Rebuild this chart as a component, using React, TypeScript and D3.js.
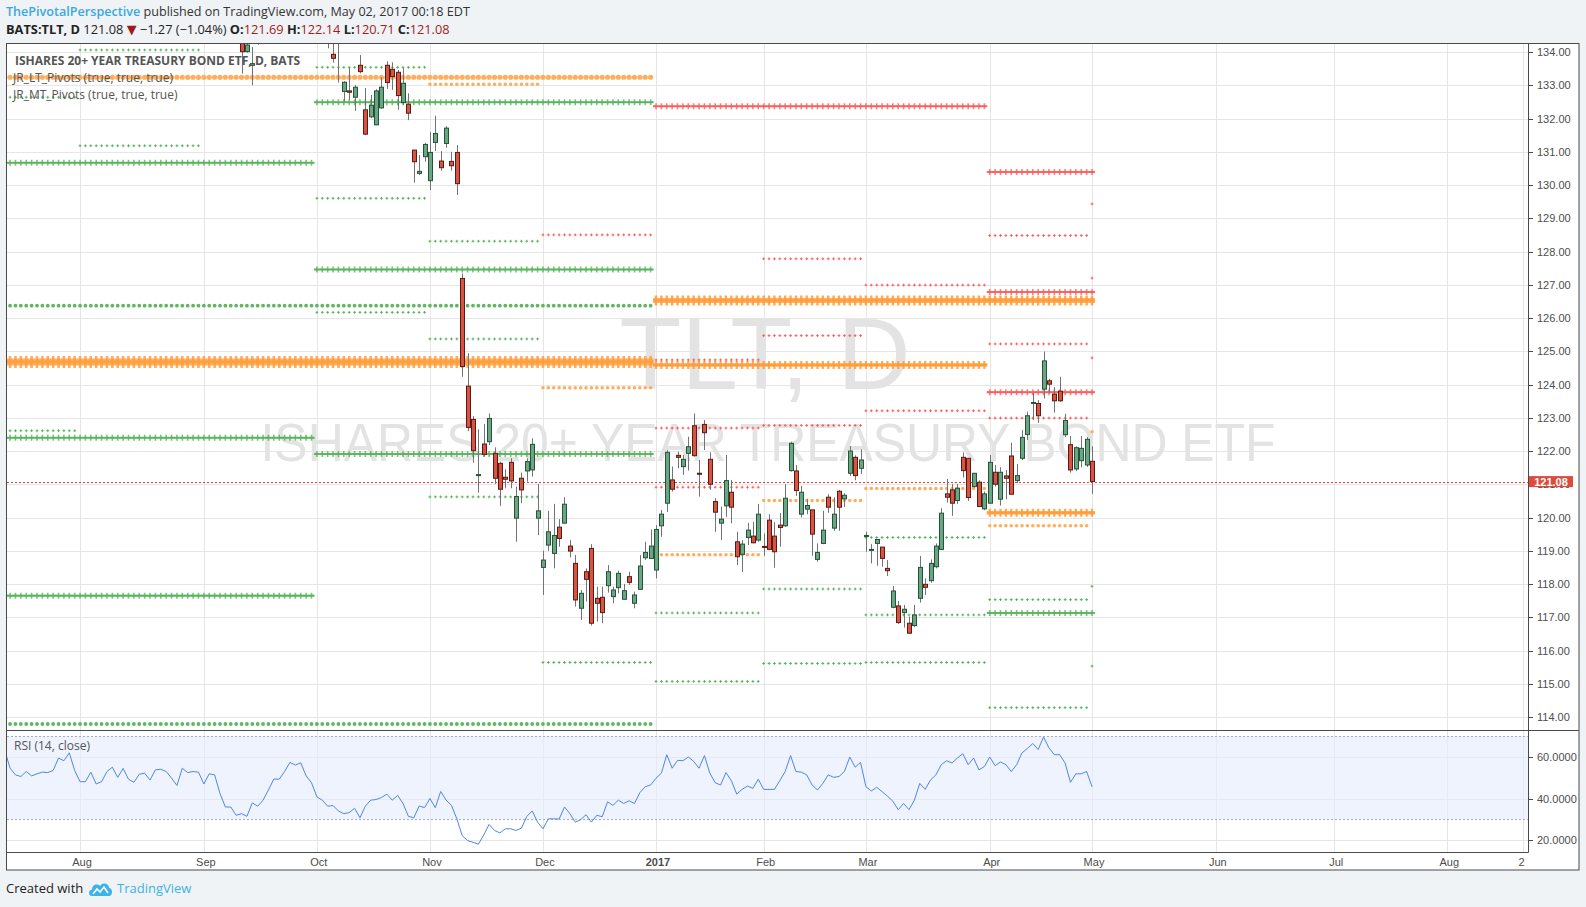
import React from "react";
import * as d3 from "d3";

// ---------------- DATA ----------------
// bar index is counted in trading days from Jan 3, 2017 (= 0)
const candleStart = -77; // Sep 13, 2016
const opens = [
  134.5, 134.01, 133.6, 134.6, 134.8, 135.4, 135.7, 136.6, 137.0, 137.3,
  138.0, 137.7, 138.3, 137.5, 137.4, 136.6, 135.6, 133.93, 134.35, 132.81,
  132.83, 132.64, 133.6, 132.26, 132.05, 131.81, 132.32, 133.6, 133.48, 133.39,
  132.48, 132.43, 131.05, 130.35, 130.85, 130.13, 131.28, 130.72, 131.25, 130.71,
  130.98, 127.19, 123.95, 122.95, 121.27, 122.21, 122.28, 121.93, 121.63, 121.21,
  121.66, 119.98, 121.18, 121.4, 121.43, 119.98, 118.5, 119.17, 118.92, 119.71,
  119.83, 119.14, 118.62, 117.27, 118.37, 119.07, 117.57, 117.6, 117.95, 117.62,
  117.89, 117.54, 118.22, 117.42, 117.84, 118.79, 118.77, 118.42, 119.75, 120.43,
  121.13, 121.87, 121.53, 121.93, 122.76, 121.33, 122.8, 121.75, 120.48, 119.83,
  120.35, 120.76, 119.27, 118.89, 119.4, 119.44, 119.32, 119.13, 119.92, 119.44,
  119.77, 119.75, 121.41, 121.4, 120.1, 120.25, 120.23, 118.74, 119.22, 120.61,
  119.68, 120.79, 120.56, 121.33, 121.81, 121.48, 119.44, 119.02, 119.22, 119.11,
  118.47, 117.3, 117.34, 117.14, 116.82, 116.75, 117.57, 117.99, 118.1, 118.52,
  119.04, 120.71, 120.83, 120.51, 121.81, 121.78, 120.93, 121.06, 120.26, 120.43,
  121.36, 120.55, 121.25, 121.85, 121.11, 121.78, 122.5, 123.44, 123.43, 123.86,
  124.11, 123.71, 123.8, 122.49, 122.19, 121.46, 121.71, 121.58, 121.69,
];
const highs = [
  134.8, 134.4, 134.15, 134.9, 135.5, 135.9, 136.8, 137.3, 137.6, 138.2,
  138.4, 138.6, 138.6, 138.0, 137.6, 136.7, 135.9, 134.4, 134.6, 133.12,
  133.52, 133.01, 133.91, 132.92, 132.71, 132.88, 133.24, 133.72, 133.69, 133.46,
  133.51, 132.76, 131.05, 130.9, 131.27, 131.6, 132.08, 131.02, 131.77, 131.0,
  131.2, 127.34, 124.94, 123.05, 122.65, 122.81, 123.13, 122.11, 121.68, 121.45,
  121.78, 120.93, 121.35, 121.78, 122.38, 121.01, 119.0, 120.2, 120.41, 119.95,
  120.61, 119.32, 118.87, 117.82, 118.47, 119.2, 117.92, 117.92, 118.57, 117.92,
  118.4, 118.0, 118.37, 117.77, 118.87, 119.27, 119.64, 119.77, 120.23, 122.03,
  121.53, 121.98, 121.88, 122.43, 123.13, 121.73, 122.93, 121.96, 120.58, 120.33,
  121.88, 121.13, 119.57, 119.32, 119.84, 119.87, 120.41, 119.52, 120.1, 119.86,
  120.13, 121.0, 122.28, 121.58, 120.95, 120.56, 120.23, 119.22, 120.2, 120.7,
  120.61, 120.83, 120.73, 122.15, 121.87, 122.05, 119.57, 119.2, 119.34, 119.11,
  118.72, 117.94, 117.49, 117.37, 117.02, 117.37, 118.84, 118.17, 118.74, 119.22,
  120.28, 121.16, 121.01, 121.01, 121.96, 121.78, 121.33, 121.12, 120.78, 121.88,
  121.58, 121.51, 121.43, 122.25, 121.61, 122.63, 123.18, 123.75, 123.53, 124.99,
  124.17, 123.92, 124.23, 123.12, 122.45, 122.14, 122.45, 122.42, 122.14,
];
const lows = [
  133.35, 133.98, 133.0, 134.22, 134.24, 134.25, 135.5, 136.4, 136.7, 137.1,
  137.5, 137.5, 137.2, 137.0, 136.6, 135.6, 134.11, 133.68, 133.08, 132.51,
  132.56, 132.23, 133.36, 131.5, 132.01, 131.8, 132.29, 132.89, 132.86, 132.26,
  132.41, 131.95, 130.07, 130.3, 130.7, 129.85, 131.02, 130.43, 131.12, 130.43,
  129.7, 124.23, 122.6, 121.65, 120.75, 121.83, 122.18, 121.01, 120.35, 120.88,
  120.88, 119.27, 120.43, 121.08, 121.23, 119.47, 117.67, 119.0, 118.47, 119.12,
  119.83, 118.8, 117.32, 116.92, 117.47, 116.75, 116.87, 116.82, 117.74, 117.42,
  117.72, 117.54, 117.97, 117.27, 117.82, 118.72, 118.77, 118.17, 119.42, 120.17,
  120.78, 121.48, 121.28, 121.41, 121.83, 120.63, 122.03, 120.83, 119.57, 119.32,
  120.02, 119.83, 118.57, 118.36, 119.17, 119.22, 119.27, 118.85, 119.02, 118.49,
  119.12, 119.72, 121.38, 120.65, 120.0, 120.1, 118.85, 118.67, 119.2, 120.14,
  119.6, 119.6, 120.32, 121.25, 121.12, 121.31, 118.97, 118.62, 118.55, 118.52,
  118.24, 117.27, 116.8, 116.69, 116.52, 116.7, 117.44, 117.67, 118.04, 118.47,
  119.04, 120.45, 120.05, 120.41, 121.2, 120.5, 120.9, 120.33, 120.22, 120.43,
  120.93, 120.36, 120.55, 120.7, 121.03, 121.73, 122.33, 122.93, 122.85, 123.58,
  123.74, 123.15, 123.48, 122.42, 121.35, 121.4, 121.51, 121.52, 120.71,
];
const closes = [
  134.01, 134.21, 133.65, 134.75, 135.3, 135.6, 136.6, 137.0, 137.4, 138.0,
  137.7, 138.4, 137.5, 137.8, 136.8, 135.8, 134.6, 133.81, 134.3, 133.09,
  132.79, 132.94, 133.41, 131.53, 132.4, 132.83, 132.94, 133.08, 133.26, 132.69,
  133.06, 132.16, 130.7, 130.41, 131.22, 130.98, 131.55, 130.52, 131.71, 130.58,
  130.04, 124.54, 122.71, 122.01, 121.29, 121.9, 122.98, 121.18, 120.85, 121.15,
  121.1, 120.63, 120.83, 121.68, 122.2, 120.2, 118.72, 119.57, 119.46, 119.37,
  120.4, 118.99, 117.52, 117.72, 118.14, 116.82, 117.42, 117.14, 118.37, 117.82,
  118.32, 117.8, 118.05, 117.67, 118.54, 118.95, 119.14, 119.64, 120.1, 121.96,
  120.85, 121.81, 121.75, 122.13, 121.86, 121.3, 122.55, 121.0, 120.16, 119.95,
  121.11, 120.31, 118.82, 119.2, 119.62, 119.24, 120.1, 119.11, 119.04, 118.97,
  119.7, 120.58, 122.23, 120.81, 120.76, 120.36, 119.5, 118.95, 119.62, 120.31,
  120.1, 120.31, 120.67, 122.0, 121.26, 121.73, 119.46, 119.04, 119.34, 118.77,
  118.4, 117.79, 116.84, 117.24, 116.52, 117.07, 118.5, 117.9, 118.62, 119.14,
  120.13, 120.61, 120.43, 120.88, 121.41, 120.6, 121.33, 120.33, 120.71, 121.66,
  121.0, 121.36, 121.18, 120.7, 121.26, 122.41, 123.06, 123.46, 123.06, 124.71,
  124.01, 123.51, 123.51, 122.92, 121.43, 122.1, 122.08, 122.35, 121.08,
];

const rsiStart = -121;
const rsiValues = [
  63.3, 54.6, 51.4, 50.6, 53.0, 50.9, 51.9, 52.7, 52.5, 53.5,
  59.5, 58.2, 62.0, 53.5, 48.1, 48.1, 52.7, 47.0, 48.1, 53.0,
  55.1, 50.2, 54.5, 49.3, 47.8, 51.7, 52.2, 48.9, 53.8, 54.1,
  53.0, 49.8, 46.3, 54.6, 52.5, 53.0, 52.7, 47.0, 51.9, 51.4,
  42.4, 35.9, 35.9, 31.9, 32.7, 31.4, 37.9, 36.3, 39.2, 44.1,
  49.4, 49.3, 53.0, 57.4, 56.1, 57.2, 50.9, 47.6, 40.8, 39.2,
  36.3, 36.6, 34.0, 32.7, 33.2, 35.3, 30.7, 36.3, 39.2, 39.5,
  40.5, 42.1, 39.2, 41.5, 37.6, 31.4, 30.7, 36.4, 35.6, 40.0,
  35.6, 43.4, 39.2, 36.7, 30.2, 22.1, 19.7, 18.9, 18.0, 22.4,
  27.5, 24.6, 23.4, 25.4, 25.4, 24.6, 25.7, 31.4, 34.0, 28.6,
  25.4, 30.2, 30.2, 30.1, 35.9, 32.7, 28.6, 29.8, 32.2, 28.6,
  31.9, 31.2, 38.4, 36.7, 39.2, 37.6, 38.9, 37.6, 42.8, 45.7,
  46.5, 49.8, 52.2, 61.1, 54.6, 58.4, 58.2, 60.0, 57.9, 54.6,
  60.7, 52.2, 47.6, 46.5, 52.5, 48.6, 42.1, 44.4, 46.0, 44.9,
  49.3, 44.4, 44.4, 44.4, 48.6, 53.0, 60.7, 53.0, 52.7, 51.4,
  46.5, 44.1, 47.3, 51.4, 50.2, 50.6, 53.0, 60.0, 55.1, 57.4,
  45.7, 43.6, 45.4, 43.3, 41.1, 38.7, 34.6, 37.6, 34.6, 39.2,
  47.3, 44.4, 48.9, 51.4, 56.3, 58.2, 57.1, 59.5, 61.6, 56.3,
  59.5, 53.8, 55.4, 60.0, 55.8, 57.6, 56.3, 53.0, 56.3, 62.0,
  64.1, 66.5, 63.6, 69.6, 64.4, 61.1, 61.1, 57.1, 47.8, 51.9,
  51.9, 53.0, 45.7,
];

const timeTickIndex = [-107, -84, -63, -42, -21, 0, 20, 39, 62, 81, 104, 126, 147, 161];
const timeTickLabel = ["Aug", "Sep", "Oct", "Nov", "Dec", "2017", "Feb", "Mar", "Apr", "May", "Jun", "Jul", "Aug", "21"];
const priceTicks = [114, 115, 116, 117, 118, 119, 120, 121, 122, 123, 124, 125, 126, 127, 128, 129, 130, 131, 132, 133, 134];
const rsiTicks = [20, 40, 60];
const rsiBand = [30, 70];
const lastPrice = 121.08;

// pivot levels: [first bar, last bar, price]
const greenThickPivots = [
  [-121, -64, 130.67], [-121, -64, 122.4], [-121, -64, 117.65],
  [-63, -1, 132.49], [-63, -1, 127.46], [-63, -1, 121.91],
  [62, 81, 117.13],
];
const redThickPivots = [[0, 61, 132.37], [62, 81, 130.39], [62, 81, 126.78], [62, 81, 123.77]];
const orangeWidePivots = [[-121, -1, 124.68]];
const orangeBigPivots = [[0, 81, 126.53]];
const orangeThickPivots = [[0, 61, 124.59], [62, 81, 120.14]];
const orangeCirclePivots = [[-121, -1, 133.24]];
const greenCirclePivots = [[-121, -1, 126.37], [-121, -1, 113.79]];
const orangeDotPivots = [
  [-42, -22, 133.03], [-21, -1, 123.9], [0, 19, 118.88], [20, 38, 120.51],
  [39, 61, 120.87], [62, 80, 119.75], [81, 81, 122.58],
];
const greenSmallPivots = [
  [-121, -108, 132.64], [-121, -108, 122.61],
  [-107, -85, 134.06], [-107, -85, 131.18],
  [-63, -43, 133.54], [-63, -43, 129.6], [-63, -43, 126.17],
  [-42, -22, 128.31], [-42, -22, 125.37], [-42, -22, 120.62],
  [-21, -1, 115.64],
  [0, 19, 117.13], [0, 19, 115.07],
  [20, 38, 117.85], [20, 38, 115.61],
  [39, 61, 119.4], [39, 61, 117.07], [39, 61, 115.64],
  [62, 80, 117.53], [62, 80, 114.28],
  [81, 81, 117.93], [81, 81, 115.53],
];
const redSmallPivots = [
  [-21, -1, 128.5],
  [0, 19, 124.74], [0, 19, 122.69], [0, 19, 120.91],
  [20, 38, 127.78], [20, 38, 125.47], [20, 38, 122.77],
  [39, 61, 126.99], [39, 61, 123.21],
  [62, 80, 128.48], [62, 80, 125.22], [62, 80, 122.99],
  [81, 81, 129.43], [81, 81, 127.2], [81, 81, 124.8],
];

// ---------------- LAYOUT ----------------
const W = 1586;
const H = 907;
const PL = 7;
const PR = 1528;
const PT = 44;
const MB = 730;
const RB = 852;
const FB = 870;
const FR = 1579;

const UI = "'Open Sans', 'DejaVu Sans', sans-serif";
const AX = "'Liberation Sans', Arial, sans-serif";

export default function App() {
  const x = d3.scaleLinear().domain([0, 81]).range([656, 1092]);
  const y = d3.scaleLinear().domain([114, 134]).range([717, 52]);
  const yr = d3.scaleLinear().domain([20, 60]).range([840, 757]);

  const crossPath = (segs: number[][], a: number, b: number) =>
    segs
      .map(([s, e, p]) => {
        let d = "";
        const yy = y(p);
        for (let i = s; i <= e; i++) {
          const xx = x(i);
          d += `M${(xx - a).toFixed(2)},${yy.toFixed(2)}h${2 * a}M${xx.toFixed(2)},${(yy - b).toFixed(2)}v${2 * b}`;
        }
        return d;
      })
      .join("");
  const circlePath = (segs: number[][], r: number) =>
    segs
      .map(([s, e, p]) => {
        let d = "";
        const yy = y(p);
        for (let i = s; i <= e; i++) {
          const xx = x(i);
          d += `M${(xx - r).toFixed(2)},${yy.toFixed(2)}a${r},${r} 0 1,0 ${2 * r},0a${r},${r} 0 1,0 ${-2 * r},0`;
        }
        return d;
      })
      .join("");
  const bandPath = (segs: number[][], a: number) =>
    segs.map(([s, e, p]) => `M${x(s) - a},${y(p)}H${x(e) + a}`).join("");

  const rsiLine = d3
    .line<number>()
    .x((_, k) => x(rsiStart + k))
    .y((v) => yr(v))(rsiValues);

  const candles = opens.map((o, k) => {
    const i = candleStart + k;
    const c = closes[k];
    const up = c >= o;
    const cx = Math.round(x(i));
    const top = y(Math.max(o, c));
    const bot = y(Math.min(o, c));
    return { i, cx, top, bot, hi: y(highs[k]), lo: y(lows[k]), up };
  });

  return (
    <svg
      width={W}
      height={H}
      viewBox={`0 0 ${W} ${H}`}
      style={{ position: "absolute", left: 0, top: 0, background: "#f0f3f6" }}
    >
      <defs>
        <clipPath id="mainClip">
          <rect x={PL} y={PT} width={PR - PL} height={MB - PT} />
        </clipPath>
        <clipPath id="rsiClip">
          <rect x={PL} y={MB + 1} width={PR - PL} height={RB - MB - 1} />
        </clipPath>
        <clipPath id="axisClip">
          <rect x={PL} y={RB} width={PR - PL - 3} height={FB - RB} />
        </clipPath>
      </defs>

      {/* header */}
      <text x={6} y={16} fontFamily={UI} fontSize={12.6} fill="#333">
        <tspan fill="#3aa8dc" fontWeight={600}>ThePivotalPerspective</tspan>
        <tspan> published on TradingView.com, May 02, 2017 00:18 EDT</tspan>
      </text>
      <text x={6} y={34} fontFamily={UI} fontSize={12.8} fill="#222" xmlSpace="preserve">
        <tspan fontWeight={700}>BATS:TLT, D</tspan>
        <tspan> 121.08 </tspan>
        <tspan fill="#9b1c1c">▼</tspan>
        <tspan> −1.27 (−1.04%) </tspan>
        <tspan fontWeight={700}>O:</tspan>
        <tspan fill="#a61c1c">121.69</tspan>
        <tspan fontWeight={700}> H:</tspan>
        <tspan fill="#a61c1c">122.14</tspan>
        <tspan fontWeight={700}> L:</tspan>
        <tspan fill="#a61c1c">120.71</tspan>
        <tspan fontWeight={700}> C:</tspan>
        <tspan fill="#a61c1c">121.08</tspan>
      </text>

      {/* chart background */}
      <rect x={6} y={43.5} width={FR - 6} height={FB - 43.5} fill="#ffffff" />

      {/* grid */}
      <g stroke="#e6e6e6" strokeWidth={1}>
        {priceTicks.map((p) => (
          <line key={"hg" + p} x1={PL} x2={PR} y1={Math.round(y(p)) + 0.5} y2={Math.round(y(p)) + 0.5} />
        ))}
        {rsiTicks.map((v) => (
          <line key={"rg" + v} x1={PL} x2={PR} y1={Math.round(yr(v)) + 0.5} y2={Math.round(yr(v)) + 0.5} />
        ))}
        {timeTickIndex.map((t) => (
          <line key={"vg" + t} x1={Math.round(x(t)) + 0.5} x2={Math.round(x(t)) + 0.5} y1={PT} y2={RB} />
        ))}
      </g>

      {/* watermark */}
      <g fill="#e3e3e3" fontFamily={AX} textAnchor="middle">
        <text x={765} y={389} fontSize={102} textLength={291} lengthAdjust="spacingAndGlyphs">
          TLT, D
        </text>
        <text x={768} y={461} fontSize={54} textLength={1015} lengthAdjust="spacingAndGlyphs">
          ISHARES 20+ YEAR TREASURY BOND ETF
        </text>
      </g>

      {/* main pane content */}
      <g clipPath="url(#mainClip)">
        <g fill="none">
          <path d={bandPath(orangeWidePivots, 3)} stroke="#ffa54d" strokeWidth={7} opacity={0.85} />
          <path d={crossPath(orangeWidePivots, 2.7, 6)} stroke="#ff9a33" strokeWidth={2.6} opacity={0.8} />
          <path d={bandPath(orangeBigPivots, 3)} stroke="#ffa54d" strokeWidth={5} opacity={0.85} />
          <path d={crossPath(orangeBigPivots, 2.7, 5)} stroke="#ff9a33" strokeWidth={2.4} opacity={0.85} />
          <path d={bandPath(orangeThickPivots, 3)} stroke="#ffa54d" strokeWidth={3.5} opacity={0.85} />
          <path d={crossPath(orangeThickPivots, 2.7, 4)} stroke="#ff9a33" strokeWidth={2.2} opacity={0.85} />
          <path d={bandPath(greenThickPivots, 3)} stroke="#4caf50" strokeWidth={2} opacity={0.75} />
          <path d={crossPath(greenThickPivots, 2.7, 3)} stroke="#4caf50" strokeWidth={1.6} opacity={0.75} />
          <path d={bandPath(redThickPivots, 3)} stroke="#ff5252" strokeWidth={2} opacity={0.75} />
          <path d={crossPath(redThickPivots, 2.7, 3)} stroke="#ff5252" strokeWidth={1.6} opacity={0.75} />
          <path d={crossPath(greenSmallPivots, 1.4, 1.4)} stroke="#4caf50" strokeWidth={1} opacity={0.9} />
          <path d={crossPath(redSmallPivots, 1.4, 1.4)} stroke="#ff5252" strokeWidth={1} opacity={0.9} />
        </g>
        <path d={circlePath(orangeCirclePivots, 2.6)} fill="#ffa54d" opacity={0.9} />
        <path d={circlePath(greenCirclePivots, 1.9)} fill="#4caf50" opacity={0.9} />
        <path d={circlePath(orangeDotPivots, 1.8)} fill="#ffa54d" opacity={0.9} />

        <line
          x1={PL}
          x2={PR}
          y1={Math.round(y(lastPrice)) + 0.5}
          y2={Math.round(y(lastPrice)) + 0.5}
          stroke="#d9402f"
          strokeWidth={1}
          strokeDasharray="2,2"
        />

        {candles.map((c) => (
          <g key={"c" + c.i}>
            <line x1={c.cx + 0.5} x2={c.cx + 0.5} y1={c.hi} y2={c.lo} stroke="#737375" strokeWidth={1} />
            <rect
              x={c.cx - 1.5}
              y={c.top}
              width={4}
              height={Math.max(1, c.bot - c.top)}
              fill={c.up ? "#6ba583" : "#d75442"}
              stroke={c.up ? "#225437" : "#5b1a13"}
              strokeWidth={1}
            />
          </g>
        ))}
      </g>

      {/* legends */}
      <g fontFamily={UI} fontSize={12} fill="#555">
        <text x={15} y={65} fontWeight={700}>ISHARES 20+ YEAR TREASURY BOND ETF, D, BATS</text>
        <text x={13} y={82}>JR_LT_Pivots (true, true, true)</text>
        <text x={13} y={99}>JR_MT_Pivots (true, true, true)</text>
      </g>

      {/* RSI pane */}
      <rect x={PL} y={yr(rsiBand[1])} width={PR - PL} height={yr(rsiBand[0]) - yr(rsiBand[1])} fill="#e3ebfb" opacity={0.6} />
      {rsiBand.map((v) => (
        <line
          key={"rb" + v}
          x1={PL}
          x2={PR}
          y1={Math.round(yr(v)) + 0.5}
          y2={Math.round(yr(v)) + 0.5}
          stroke="#a8acb8"
          strokeDasharray="2,2"
        />
      ))}
      <g clipPath="url(#rsiClip)">
        <path d={rsiLine || ""} fill="none" stroke="#4f86e8" strokeWidth={1} />
      </g>
      <text x={14} y={750} fontFamily={UI} fontSize={12} fill="#555">RSI (14, close)</text>

      {/* frame */}
      <g stroke="#4a4a4a" strokeWidth={1} fill="none">
        <rect x={6.5} y={43.5} width={FR - 6.5} height={FB - 43.5} />
        <line x1={PR + 0.5} x2={PR + 0.5} y1={43.5} y2={RB + 0.5} />
        <line x1={6.5} x2={FR} y1={MB + 0.5} y2={MB + 0.5} />
        <line x1={6.5} x2={PR + 0.5} y1={RB + 0.5} y2={RB + 0.5} />
      </g>

      {/* price axis */}
      <g fontFamily={AX} fontSize={11} fill="#4d4d4d">
        {priceTicks.map((p) => (
          <g key={"pt" + p}>
            <line x1={PR + 1} x2={PR + 5} y1={Math.round(y(p)) + 0.5} y2={Math.round(y(p)) + 0.5} stroke="#4a4a4a" />
            <text x={1537} y={y(p) + 4}>{p.toFixed(2)}</text>
          </g>
        ))}
        {rsiTicks.map((v) => (
          <g key={"rt" + v}>
            <line x1={PR + 1} x2={PR + 5} y1={Math.round(yr(v)) + 0.5} y2={Math.round(yr(v)) + 0.5} stroke="#4a4a4a" />
            <text x={1537} y={yr(v) + 4}>{v.toFixed(4)}</text>
          </g>
        ))}
      </g>
      <rect x={PR + 1} y={y(lastPrice) - 5.5} width={44} height={11} fill="#dd4b3a" />
      <text x={PR + 23} y={y(lastPrice) + 4} textAnchor="middle" fontFamily={AX} fontSize={11} fontWeight={700} fill="#fff">
        {lastPrice.toFixed(2)}
      </text>

      {/* time axis */}
      <g clipPath="url(#axisClip)" fontFamily={AX} fontSize={11} fill="#4d4d4d" textAnchor="middle">
        {timeTickIndex.map((t, k) => (
          <text key={"tt" + t} x={x(t) + 2} y={866} fontWeight={timeTickLabel[k] === "2017" ? 700 : 400}>
            {timeTickLabel[k]}
          </text>
        ))}
      </g>

      {/* footer */}
      <text x={6} y={893} fontFamily={UI} fontSize={13} fill="#222">Created with</text>
      <g transform="translate(89,882)">
        <path d="M3,14 C-1,14 -1,8 3,7.5 C3,3 8,1 11,4 C13,0 20,1 20,6 C24,6 24,14 20,14 Z" fill="#3bb3e4" />
        <path d="M4,12 L8,7 L11,10 L15,5 L19,11" stroke="#fff" strokeWidth={1.6} fill="none" />
      </g>
      <text x={117} y={893} fontFamily={UI} fontSize={13} fill="#3bb3e4">TradingView</text>
    </svg>
  );
}
